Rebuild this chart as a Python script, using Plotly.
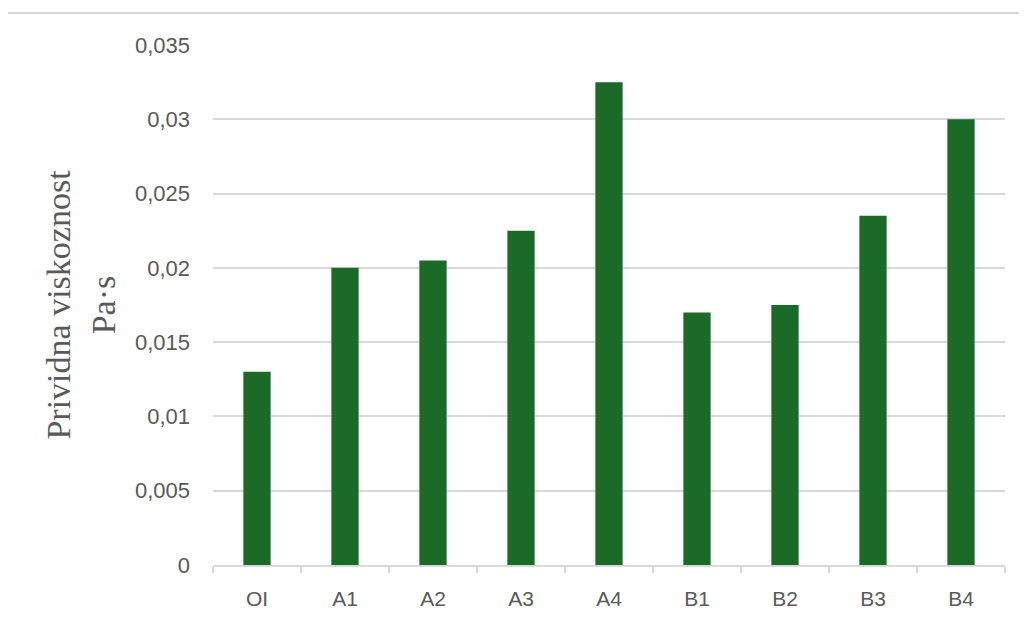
import plotly.graph_objects as go

categories = ["OI", "A1", "A2", "A3", "A4", "B1", "B2", "B3", "B4"]
viscosity = [0.013, 0.020, 0.0205, 0.0225, 0.0325, 0.017, 0.0175, 0.0235, 0.030]
y_tick_values = [0, 0.005, 0.01, 0.015, 0.02, 0.025, 0.03, 0.035]
y_tick_labels = ["0", "0,005", "0,01", "0,015", "0,02", "0,025", "0,03", "0,035"]

W, H = 1027, 626
# page body has an 8px offset; plot area target in window: x 213..1005, y 45..565
L, R, T, B = 205, 30, 37, 69
pw, ph = W - L - R, H - T - B

fig = go.Figure(go.Bar(
    x=categories, y=viscosity,
    marker=dict(color="#1b6a27", line=dict(width=0)),
    width=0.31,
))

grey = "#595959"
fig.update_layout(
    width=W, height=H,
    margin=dict(l=L, r=R, t=T, b=B),
    paper_bgcolor="white", plot_bgcolor="white",
    showlegend=False,
    font=dict(family="Liberation Sans, Arial, sans-serif", size=22, color=grey),
    xaxis=dict(
        showgrid=False, showline=True, linecolor="#d9d9d9", linewidth=1.5,
        ticks="outside", ticklen=6, tickcolor="#d9d9d9", tickwidth=1.5,
        tickson="boundaries", ticklabelstandoff=14,
        tickfont=dict(size=21, color=grey),
    ),
    yaxis=dict(
        range=[0, 0.035], tickvals=y_tick_values, ticktext=y_tick_labels,
        showgrid=True, gridcolor="#d9d9d9", gridwidth=1.5,
        zeroline=False, showline=False, ticks="",
        ticklabelstandoff=22,
        tickfont=dict(size=22, color=grey),
        title=dict(
            text="Prividna viskoznost<br>Pa·s",
            font=dict(family="Liberation Serif, Times New Roman, serif", size=34, color=grey),
            standoff=9,
        ),
    ),
    shapes=[dict(
        type="rect", xref="paper", yref="paper",
        x0=(-1 - L) / pw, x1=1.2, y0=-0.3, y1=1 + (T - 5) / ph,
        line=dict(color="#d9d9d9", width=2), fillcolor="rgba(0,0,0,0)", layer="below",
    )],
)

fig.write_html("out.html")
